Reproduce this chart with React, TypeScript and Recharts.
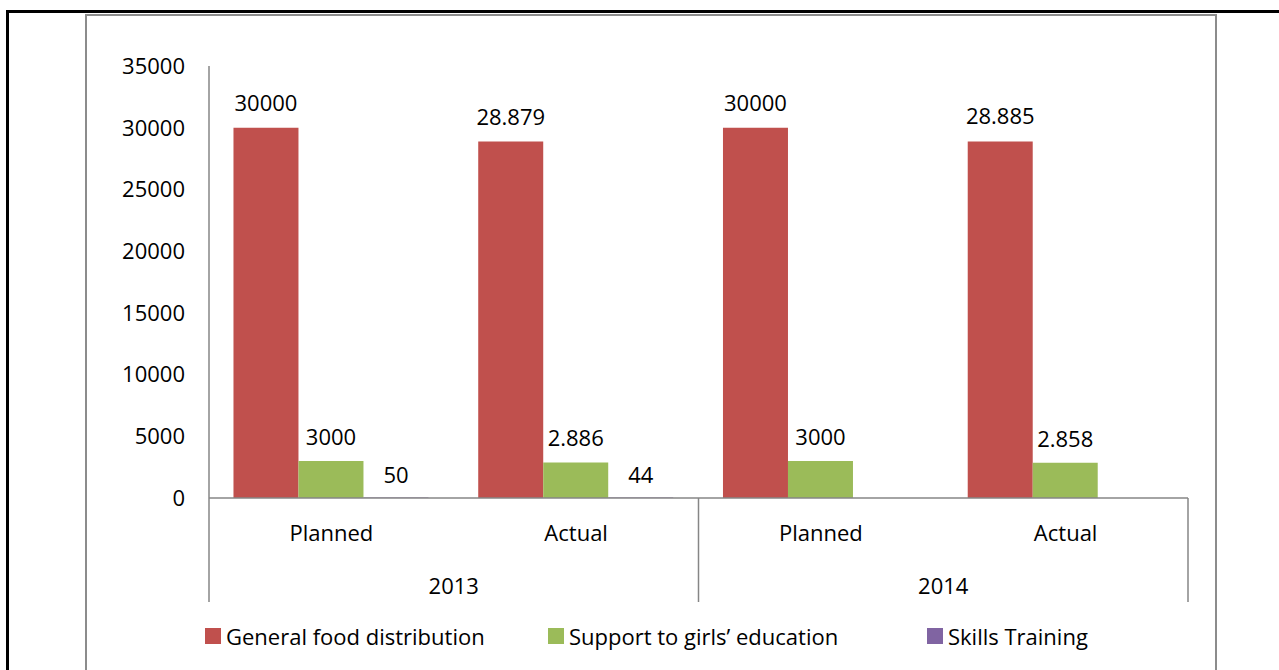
import { Bar, BarChart, LabelList, Legend, XAxis, YAxis } from "recharts";

const categories = ["Planned", "Actual", "Planned", "Actual"];
const years = ["2013", "2014"];
const foodValues = [30000, 28879, 30000, 28885];
const girlsValues = [3000, 2886, 3000, 2858];
const skillsValues = [50, 44, null, null];
const foodLabels = ["30000", "28.879", "30000", "28.885"];
const girlsLabels = ["3000", "2.886", "3000", "2.858"];
const skillsLabels = ["50", "44", "", ""];
const yTicks = [0, 5000, 10000, 15000, 20000, 25000, 30000, 35000];

const seriesNames = [
	"General food distribution",
	"Support to girls\u2019 education",
	"Skills Training",
];
const colors = ["#C0504D", "#9BBB59", "#8064A2"];

const data = categories.map((label, i) => ({
	label,
	year: years[Math.floor(i / 2)],
	food: foodValues[i],
	girls: girlsValues[i],
	skills: skillsValues[i],
	foodLabel: foodLabels[i],
	girlsLabel: girlsLabels[i],
	skillsLabel: skillsLabels[i],
}));

const FONT = "'Open Sans', sans-serif";
const AXIS = "#868686";
const PLOT_LEFT = 209;
const PLOT_RIGHT = 1188;
const BAND = (PLOT_RIGHT - PLOT_LEFT) / categories.length;
const X_AXIS_HEIGHT = 104;
// legend item widths (square + text + gap)
const legendWidths = [343, 379, 200];

const CategoryTick = (props: any) => {
	const { x, y, payload, index } = props;
	const row = data[index];
	return (
		<g>
			<text
				x={x}
				y={y + 37}
				textAnchor="middle"
				dominantBaseline="middle"
				fontFamily={FONT}
				fontSize={22}
				fill="#000"
			>
				{payload.value}
			</text>
			{index % 2 === 0 && (
				<>
					<line
						x1={x - BAND / 2}
						x2={x - BAND / 2}
						y1={y}
						y2={y + X_AXIS_HEIGHT}
						stroke={AXIS}
						strokeWidth={1.5}
					/>
					<text
						x={x + BAND / 2}
						y={y + 90}
						textAnchor="middle"
						dominantBaseline="middle"
						fontFamily={FONT}
						fontSize={22}
						fill="#000"
					>
						{row.year}
					</text>
				</>
			)}
			{index === categories.length - 1 && (
				<line
					x1={x + BAND / 2}
					x2={x + BAND / 2}
					y1={y}
					y2={y + X_AXIS_HEIGHT}
					stroke={AXIS}
					strokeWidth={1.5}
				/>
			)}
		</g>
	);
};

const LegendContent = () => (
	<div
		style={{
			display: "flex",
			justifyContent: "flex-start",
			fontFamily: FONT,
			fontSize: 22,
			paddingLeft: 205,
		}}
	>
		{seriesNames.map((name, i) => (
			<div
				key={name}
				style={{ display: "flex", alignItems: "center", width: legendWidths[i] }}
			>
				<span
					style={{
						display: "inline-block",
						width: 16,
						height: 16,
						background: colors[i],
						marginRight: 5,
					}}
				/>
				<span style={{ whiteSpace: "nowrap" }}>{name}</span>
			</div>
		))}
	</div>
);

export default function App() {
	return (
		<div
			style={{
				position: "absolute",
				left: 0,
				top: 0,
				width: 1279,
				height: 670,
				background: "#fff",
				overflow: "hidden",
			}}
		>
			<div
				style={{
					position: "absolute",
					left: 6,
					top: 10,
					width: 1300,
					height: 700,
					borderTop: "3px solid #000",
					borderLeft: "3px solid #000",
				}}
			/>
			<div
				style={{
					position: "absolute",
					left: 85,
					top: 14,
					width: 1128,
					height: 700,
					border: "2px solid #8c8c8c",
				}}
			/>
			<div style={{ position: "absolute", left: 0, top: 0 }}>
				<BarChart
					width={1279}
					height={670}
					data={data}
					margin={{ top: 66, right: 1279 - PLOT_RIGHT, left: 149, bottom: 38 }}
					barCategoryGap="10%"
					barGap={0}
				>
					<XAxis
						dataKey="label"
						height={X_AXIS_HEIGHT}
						axisLine={{ stroke: AXIS, strokeWidth: 1.5 }}
						tickLine={false}
						tickSize={0}
						tickMargin={0}
						interval={0}
						tick={<CategoryTick />}
					/>
					<YAxis
						width={60}
						domain={[0, 35000]}
						ticks={yTicks}
						interval={0}
						axisLine={{ stroke: AXIS, strokeWidth: 1.5 }}
						tickLine={false}
						tickSize={0}
						tickMargin={24}
						tick={{ fontFamily: FONT, fontSize: 22, fill: "#000" }}
					/>
					<Legend
						verticalAlign="bottom"
						height={30}
						wrapperStyle={{ left: 0, width: 1279, top: 621, bottom: "auto" }}
						content={<LegendContent />}
					/>
					<Bar dataKey="food" name={seriesNames[0]} fill={colors[0]} isAnimationActive={false}>
						<LabelList dataKey="foodLabel" position="top" offset={17} fontFamily={FONT} fontSize={22} fill="#000" />
					</Bar>
					<Bar dataKey="girls" name={seriesNames[1]} fill={colors[1]} isAnimationActive={false}>
						<LabelList dataKey="girlsLabel" position="top" offset={16} fontFamily={FONT} fontSize={22} fill="#000" />
					</Bar>
					<Bar dataKey="skills" name={seriesNames[2]} fill={colors[2]} isAnimationActive={false}>
						<LabelList dataKey="skillsLabel" position="top" offset={14} fontFamily={FONT} fontSize={22} fill="#000" />
					</Bar>
				</BarChart>
			</div>
		</div>
	);
}
